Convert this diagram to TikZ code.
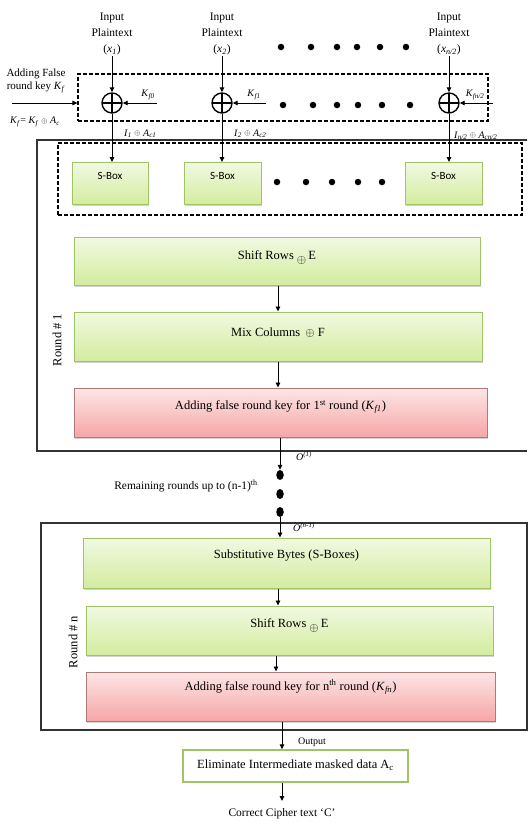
\documentclass[tikz,border=0pt]{standalone}
\usepackage{fontspec}
\setmainfont{Liberation Serif}
\newfontfamily\sboxfont{Carlito}
\usetikzlibrary{arrows.meta,shadows,shapes.geometric}
\definecolor{gtop}{HTML}{F1F9E2}
\definecolor{gbot}{HTML}{D3EC9F}
\definecolor{gborder}{HTML}{9FC463}
\definecolor{ptop}{HTML}{FDE6E6}
\definecolor{pbot}{HTML}{F6A6A6}
\definecolor{pborder}{HTML}{B07878}
\newcommand{\itsub}[2]{\textit{#1}\textsubscript{\textit{#2}}}
\newcommand{\xorsign}{\raisebox{0.5pt}{\scalebox{0.8}{$\oplus$}}}
\begin{document}
\begin{tikzpicture}[x=1pt,y=-1pt,
  >={Triangle[length=5pt,width=4.5pt]},
  conn/.style={draw=black,line width=0.9pt},
  greenbox/.style={draw=gborder,line width=1pt,top color=gtop,bottom color=gbot,
     drop shadow={shadow xshift=1pt,shadow yshift=-1.5pt,opacity=0.35,fill=gray}},
  pinkbox/.style={draw=pborder,line width=1pt,top color=ptop,bottom color=pbot,
     drop shadow={shadow xshift=1pt,shadow yshift=-1.5pt,opacity=0.35,fill=gray}},
  xorsym/.style={circle,draw=black,line width=1.4pt,minimum size=20pt,inner sep=0pt,
     path picture={\draw[line width=1.2pt] (path picture bounding box.north) -- (path picture bounding box.south)
       (path picture bounding box.west) -- (path picture bounding box.east);}},
  dashbox/.style={draw=black,line width=1.1pt,dash pattern=on 4pt off 2pt},
  roundbox/.style={draw=black!80,line width=1.3pt},
  lbl/.style={font=\fontsize{11.5}{16}\selectfont,align=center,inner sep=1pt},
  small/.style={font=\fontsize{10}{11}\selectfont,inner sep=1pt},
  boxtext/.style={font=\fontsize{12.5}{14}\selectfont},
  sbtext/.style={font=\sboxfont\fontsize{11}{12}\selectfont},
  dot/.style={circle,fill=black,minimum size=6.5pt,inner sep=0pt},
  bigdot/.style={ellipse,fill=black,minimum width=7.5pt,minimum height=10pt,inner sep=0pt}
]
\useasboundingbox (0,0) rectangle (528,825);
\fill[white] (0,0) rectangle (528,825);

% ---------- top: inputs ----------
\node[lbl] (in1) at (112,34) {Input\\Plaintext\\(\itsub{x}{1})};
\node[lbl] (in2) at (222,34) {Input\\Plaintext\\(\itsub{x}{2})};
\node[lbl] (in3) at (449,34) {Input\\Plaintext\\(\itsub{x}{n/2})};
\foreach \xx in {281,311,337,357,380,406} \node[dot] at (\xx,47) {};

% dashed xor region
\node[dashbox,minimum width=410pt,minimum height=47pt,inner sep=0pt] (xorreg) at (283,97.5) {};
\node[xorsym] (x1) at (112,103) {};
\node[xorsym] (x2) at (222,103) {};
\node[xorsym] (x3) at (449,103) {};
\foreach \xx in {283,313,337,358,382,410} \node[dot] at (\xx,105) {};

\draw[conn,->] (in1.south) -- (x1.north);
\draw[conn,->] (in2.south) -- (x2.north);
\draw[conn,->] (in3.south) -- (x3.north);

\coordinate (k0) at (157,103);
\coordinate (k1) at (266,103);
\coordinate (k3) at (493,103);
\draw[conn,->] (k0) -- (x1.east);
\draw[conn,->] (k1) -- (x2.east);
\draw[conn,->] (k3) -- (x3.east);
\node[small] (lk0) at (148,95) {\itsub{K}{f0}};
\node[small] (lk1) at (254,95) {\itsub{K}{f1}};
\node[small] (lk3) at (475,95) {\itsub{K}{fn/2}};

% left false key
\node[lbl,font=\fontsize{11}{13}\selectfont] (addf) at (36,81) {Adding False\\round key \itsub{K}{f}};
\coordinate (kin) at (12,103);
\draw[conn,->] (kin) -- (xorreg.west |- kin);
\node[small] (kfeq) at (35,122) {\itsub{K}{f}= \itsub{K}{f} \xorsign{} \itsub{A}{c}};

% ---------- Round 1 ----------
\draw[roundbox] (527,140) -- (37,140) -- (37,451) -- (527,451);
\node[dashbox,minimum width=464pt,minimum height=72pt,inner sep=0pt] (sreg) at (290,179) {};
\node[greenbox,minimum width=76pt,minimum height=42pt,inner sep=0pt,anchor=north] (s1) at (110,162) {};
\node[sbtext] (s1t) at (110,176) {S-Box};
\node[greenbox,minimum width=77pt,minimum height=42pt,inner sep=0pt,anchor=north] (s2) at (222.5,162) {};
\node[sbtext] (s2t) at (222.5,176) {S-Box};
\node[greenbox,minimum width=77pt,minimum height=42pt,inner sep=0pt,anchor=north] (s3) at (443.5,162) {};
\node[sbtext] (s3t) at (443.5,176) {S-Box};
\foreach \xx in {277,306,332,358,382} \node[dot] at (\xx,182) {};

\draw[conn,->] (x1.south) -- (x1 |- s1.north);
\draw[conn,->] (x2.south) -- (x2 |- s2.north);
\draw[conn,->] (x3.south) -- (x3 |- s3.north);
\node[small,anchor=south west] (i1) at (123,139) {\itsub{I}{1} \xorsign{} \itsub{A}{c1}};
\node[small,anchor=south west] (i2) at (233,139) {\itsub{I}{2} \xorsign{} \itsub{A}{c2}};
\node[small,anchor=south west] (i3) at (453,141) {\itsub{I}{n/2} \xorsign{} \itsub{A}{cn/2}};

\node[greenbox,minimum width=406pt,minimum height=48pt,inner sep=0pt] (sr1) at (277,261) {};
\node[boxtext] (sr1t) at (277,258) {Shift Rows \raisebox{-4pt}{$\oplus$}\,E};
\node[greenbox,minimum width=408pt,minimum height=49pt,inner sep=0pt] (mc1) at (278,336.5) {};
\node[boxtext] (mc1t) at (278,333) {Mix Columns\, $\oplus$ F};
\node[pinkbox,minimum width=413pt,minimum height=49pt,inner sep=0pt] (ak1) at (280.5,412.5) {};
\node[boxtext] (ak1t) at (280.5,407) {Adding false round key for 1\textsuperscript{st} round (\itsub{K}{f1})};
\draw[conn,->] (sr1.south -| mc1t) -- (mc1.north -| mc1t);
\draw[conn,->] (mc1.south -| mc1t) -- (ak1.north -| mc1t);

\node[lbl,rotate=90,font=\fontsize{12.5}{14}\selectfont] (rd1) at (57,340) {Round \# 1};

% ---------- between rounds ----------
\node[bigdot] (d1) at (280,475) {};
\node[bigdot] (d2) at (280,494) {};
\node[bigdot] (d3) at (280,512) {};
\draw[conn,->] (ak1.south -| d1) -- (d1.north);
\node[small] (o1) at (304,456) {\textit{O}\textsuperscript{\textit{(1)}}};
\node[lbl] (rem) at (186,486) {Remaining rounds up to (n-1)\textsuperscript{th}};

% ---------- Round n ----------
\draw[roundbox] (527,523) -- (41,523) -- (41,730) -- (527,730) -- cycle;
\node[greenbox,minimum width=407pt,minimum height=50pt,inner sep=0pt] (sb) at (286.5,563) {};
\node[boxtext] (sbt) at (286.5,556) {Substitutive Bytes (S-Boxes)};
\node[greenbox,minimum width=407pt,minimum height=49pt,inner sep=0pt] (srn) at (289.5,630.5) {};
\node[boxtext] (srnt) at (289.5,626) {Shift Rows \raisebox{-4pt}{$\oplus$}\,E};
\node[pinkbox,minimum width=409pt,minimum height=49pt,inner sep=0pt] (akn) at (290.5,696.5) {};
\node[boxtext] (aknt) at (290.5,687) {Adding false round key for n\textsuperscript{th} round (\itsub{K}{fn})};
\draw[conn,->] (d3.south) -- (sb.north -| d3);
\node[small] (on) at (304,527) {\textit{O}\textsuperscript{\textit{(n-1)}}};
\coordinate (c2) at (278,0);
\draw[conn,->] (sb.south -| c2) -- (srn.north -| c2);
\coordinate (c3) at (276,0);
\draw[conn,->] (srn.south -| c3) -- (akn.north -| c3);
\node[lbl,rotate=90,font=\fontsize{12.5}{14}\selectfont] (rdn) at (73,642) {Round \# n};

% ---------- output ----------
\node[draw=gborder,line width=1.4pt,fill=white,minimum width=225pt,minimum height=32pt,inner sep=0pt] (el) at (295.5,766) {};
\node[boxtext] (elt) at (295.5,765) {Eliminate Intermediate masked data A\textsubscript{c}};
\coordinate (c4) at (282,0);
\draw[conn,->] (akn.south -| c4) -- (el.north -| c4);
\node[small] (outl) at (312,742) {Output};
\coordinate (cend) at (282,801);
\draw[conn,->] (el.south -| c4) -- (cend);
\node[lbl,font=\fontsize{11.5}{13}\selectfont] (ct) at (282,814) {Correct Cipher text `C'};
\end{tikzpicture}
\end{document}
